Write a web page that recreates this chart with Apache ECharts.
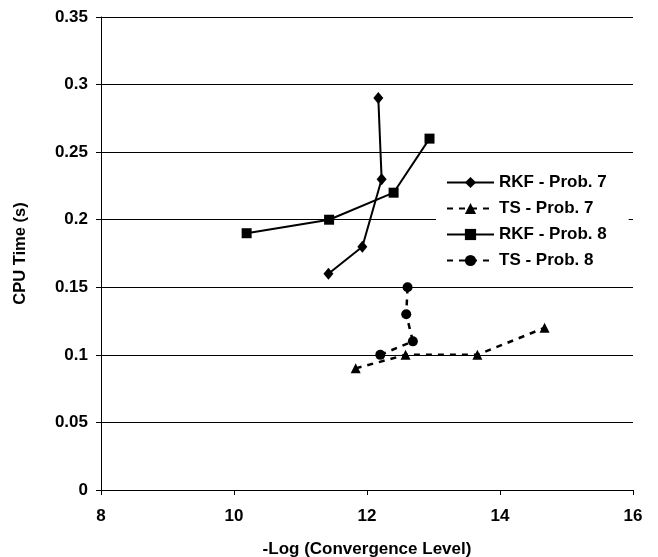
<!DOCTYPE html>
<html>
<head>
<meta charset="utf-8">
<script src="https://cdn.jsdelivr.net/npm/echarts@6/dist/echarts.min.js"></script>
<style>
  html, body { margin: 0; padding: 0; background: #fff; }
  #chart { width: 658px; height: 557px; }
</style>
</head>
<body>
<div id="chart"></div>
<script>
// -log(convergence level) vs cpu time
const rkf7 = [[11.42, 0.16], [11.93, 0.18], [12.22, 0.23], [12.17, 0.29]]
const ts7 = [[11.83, 0.09], [12.58, 0.10], [13.66, 0.10], [14.67, 0.12]]
const rkf8 = [[10.19, 0.19], [11.43, 0.20], [12.40, 0.22], [12.94, 0.26]]
const ts8 = [[12.20, 0.10], [12.69, 0.11], [12.59, 0.13], [12.61, 0.15]]

const seriesNames = ['RKF - Prob. 7', 'TS - Prob. 7', 'RKF - Prob. 8', 'TS - Prob. 8']

const font = "'Liberation Sans', Arial, sans-serif"

function makeSeries(name, data, symbol, dashed) {
  return {
    name: name,
    type: 'line',
    data: data,
    symbol: symbol,
    symbolSize: symbol === 'diamond' ? [10, 12] : 10,
    itemStyle: { color: '#000' },
    lineStyle: {
      color: '#000',
      width: dashed ? 2.5 : 2,
      type: dashed ? [6, 6] : 'solid'
    },
    emphasis: { disabled: true },
    animation: false
  }
}

const chart = echarts.init(document.getElementById('chart'))
const option = {
  backgroundColor: '#fff',
  textStyle: { fontFamily: font },
  grid: {
    left: 101,
    right: 25,
    top: 17,
    bottom: 67,
    outerBoundsMode: 'none'
  },
  legend: {
    orient: 'vertical',
    left: 436,
    top: 166,
    padding: [8, 22, 8, 10],
    backgroundColor: '#fff',
    itemWidth: 47,
    itemHeight: 14,
    itemGap: 9,
    data: seriesNames,
    textStyle: {
      fontFamily: font,
      fontSize: 17,
      fontWeight: 'bold',
      color: '#000'
    }
  },
  xAxis: {
    type: 'value',
    min: 8,
    max: 16,
    interval: 2,
    name: '-Log (Convergence Level)',
    nameLocation: 'middle',
    nameGap: 51,
    nameTextStyle: { fontFamily: font, fontSize: 17, fontWeight: 'bold', color: '#000' },
    axisLine: { show: true, lineStyle: { color: '#000', width: 1 } },
    axisTick: { show: true, length: 5, lineStyle: { color: '#000' } },
    axisLabel: { fontFamily: font, fontSize: 17, fontWeight: 'bold', color: '#000', margin: 18 },
    splitLine: { show: false }
  },
  yAxis: {
    type: 'value',
    min: 0,
    max: 0.35,
    interval: 0.05,
    name: 'CPU Time (s)',
    nameLocation: 'middle',
    nameGap: 72,
    nameTextStyle: { fontFamily: font, fontSize: 16.5, fontWeight: 'bold', color: '#000' },
    axisLine: { show: true, lineStyle: { color: '#000', width: 1 } },
    axisTick: { show: true, length: 5, lineStyle: { color: '#000' } },
    axisLabel: { fontFamily: font, fontSize: 17, fontWeight: 'bold', color: '#000', margin: 13 },
    splitLine: { show: true, lineStyle: { color: '#000', width: 1 } }
  },
  series: [
    makeSeries(seriesNames[0], rkf7, 'diamond', false),
    makeSeries(seriesNames[1], ts7, 'triangle', true),
    makeSeries(seriesNames[2], rkf8, 'rect', false),
    makeSeries(seriesNames[3], ts8, 'circle', true)
  ]
}
chart.setOption(option)
</script>
</body>
</html>
